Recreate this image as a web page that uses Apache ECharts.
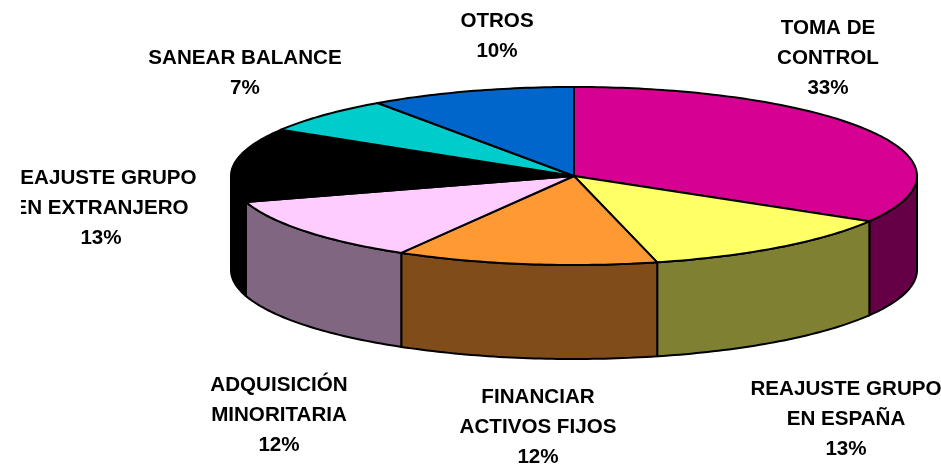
<!DOCTYPE html>
<html>
<head>
<meta charset="utf-8">
<style>html,body{margin:0;padding:0;background:#fff}#c{width:941px;height:466px}</style>
<script src="https://cdn.jsdelivr.net/npm/echarts@6/dist/echarts.min.js"></script>
</head>
<body>
<div id="c"></div>
<script>
var categories = ['TOMA DE\nCONTROL', 'REAJUSTE GRUPO\nEN ESPAÑA', 'FINANCIAR\nACTIVOS FIJOS', 'ADQUISICIÓN\nMINORITARIA', 'REAJUSTE GRUPO\nEN EXTRANJERO', 'SANEAR BALANCE', 'OTROS'];
var shares = [33.49, 12.61, 12.3, 11.9, 13.4, 6.6, 9.7];
var topColors = ['#D60093', '#FFFF66', '#FF9933', '#FFCCFF', '#000000', '#00CCCC', '#0066CC'];
var wallColors = ['#660046', '#808033', '#804D1A', '#806680', '#000000', '#006666', '#003366'];

// layout of the projected pie and of its labels
var CX = 574, CY = 176, RX = 343, RY = 89, DEPTH = 94;
var labelAnchors = [[828, 13], [846, 374], [538, 382], [279, 370], [101, 163], [245, 43], [497, 6]];
var FONT = 'bold 20.6px "Liberation Sans", Arial, sans-serif';
var LINE = 30;

var total = shares.reduce(function (a, b) { return a + b; }, 0);
function pt(t, dy) {
  return [CX + RX * Math.sin(t), CY - RY * Math.cos(t) + (dy || 0)];
}
function arc(a, b, dy) {
  var pts = [], n = Math.max(2, Math.ceil((b - a) / (Math.PI / 180)));
  for (var i = 0; i <= n; i++) pts.push(pt(a + (b - a) * i / n, dy));
  return pts;
}
var lineStyle = { stroke: '#000', lineWidth: 2, lineJoin: 'round' };

function renderItem(params, api) {
  var i = params.dataIndex, before = 0;
  for (var k = 0; k < i; k++) before += shares[k];
  var a = before / total * 2 * Math.PI;
  var b = a + api.value(0) / total * 2 * Math.PI;
  var children = [];
  // front wall: only the part of the rim on the near half of the ellipse
  var wa = Math.max(a, Math.PI / 2), wb = Math.min(b, 3 * Math.PI / 2);
  if (wb > wa) {
    var wall = arc(wa, wb, 0).concat(arc(wa, wb, DEPTH).reverse());
    children.push({
      type: 'polygon', z2: 1, shape: { points: wall },
      style: Object.assign({ fill: wallColors[i] }, lineStyle)
    });
  }
  children.push({
    type: 'polygon', z2: 2, shape: { points: [[CX, CY]].concat(arc(a, b, 0)) },
    style: Object.assign({ fill: topColors[i] }, lineStyle)
  });
  children.push({
    type: 'text', z2: 3,
    x: labelAnchors[i][0], y: labelAnchors[i][1],
    clipPath: { type: 'rect', shape: { x: 21 - labelAnchors[i][0], y: -labelAnchors[i][1], width: 941, height: 466 } },
    style: {
      text: categories[i] + '\n' + Math.round(api.value(0)) + '%',
      font: FONT, fill: '#000', align: 'center', verticalAlign: 'top', lineHeight: LINE
    }
  });
  return { type: 'group', children: children };
}

var chart = echarts.init(document.getElementById('c'), null, { renderer: 'canvas' });
chart.setOption({
  animation: false,
  backgroundColor: '#fff',
  series: [{
    type: 'custom',
    coordinateSystem: 'none',
    silent: true,
    clip: false,
    renderItem: renderItem,
    data: shares
  }]
});
</script>
</body>
</html>
